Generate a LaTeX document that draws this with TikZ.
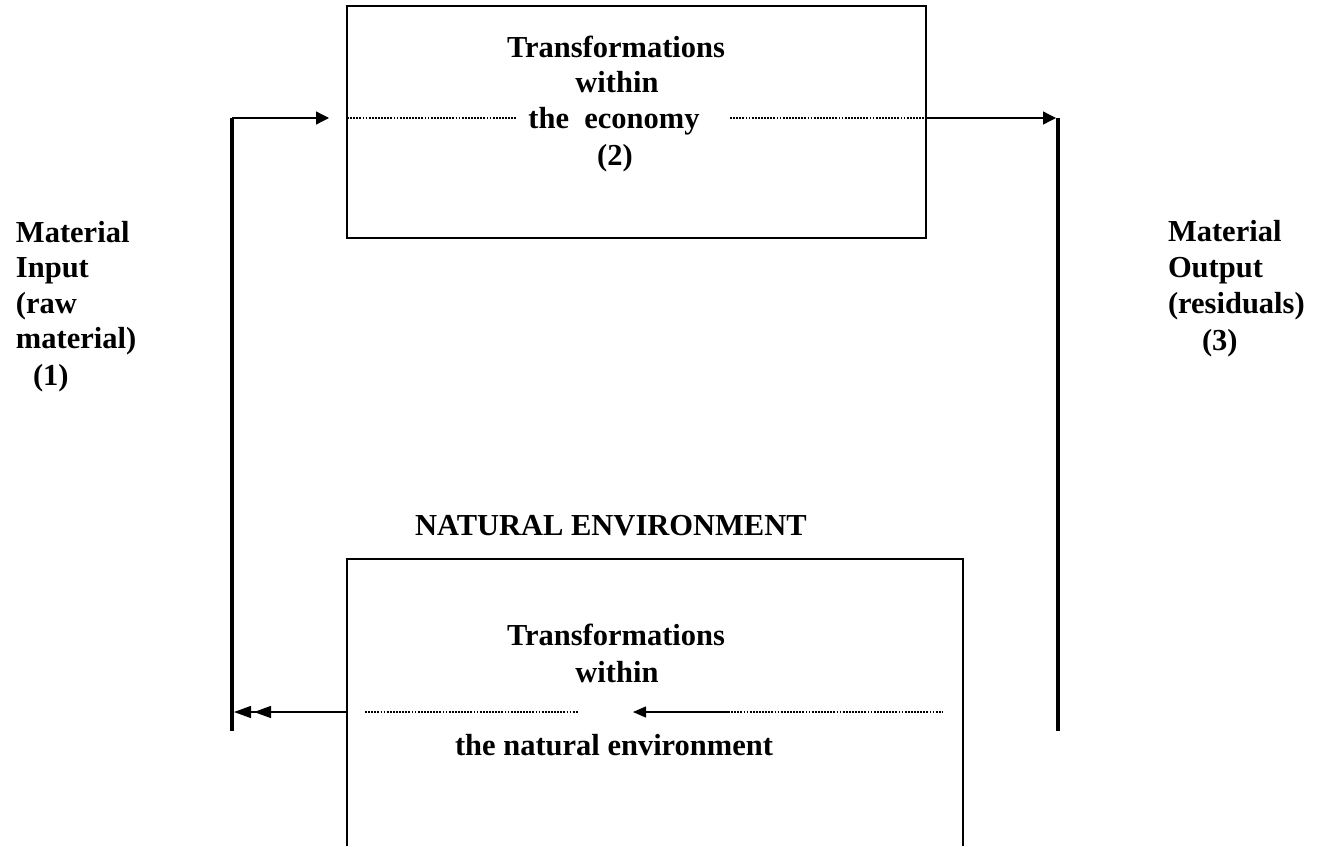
\documentclass[tikz,border=0pt]{standalone}
\usepackage{fontspec}
\setmainfont{Liberation Serif}
\usetikzlibrary{arrows.meta}
\tikzset{
  lbl/.style={font=\fontsize{30.5}{36}\selectfont\bfseries, inner sep=0pt, outer sep=0pt, anchor=base west},
  boxline/.style={line width=1.3pt},
  thinline/.style={line width=1.3pt},
  thickline/.style={line width=4pt},
  dotline/.style={line width=1.1pt, dash pattern=on 1.8pt off 1.3pt},
  headA/.style={-{Triangle[length=13pt,width=13pt]}},
  headB/.style={-{Triangle[length=13pt,width=11pt]}},
  headC/.style={-{Triangle[length=17pt,width=12pt,sep=3pt]Triangle[length=17pt,width=12pt]}}
}
\begin{document}
\begin{tikzpicture}[x=1pt,y=-1pt]
\useasboundingbox (0,0) rectangle (1317,846);

% boxes
\node[draw, boxline, rectangle, outer sep=0pt, inner sep=0pt, minimum width=579pt, minimum height=232pt, anchor=north west] (econ) at (347,6) {};
\draw[boxline] (347,846) -- (347,559) -- (963,559) -- (963,846);

% coordinates
\coordinate (LT) at (232,118);
\coordinate (LB) at (232,731);
\coordinate (RT) at (1058,118);
\coordinate (RB) at (1058,731);
\coordinate (inTip) at (329,118);
\coordinate (eL) at (347,118);
\coordinate (eLd) at (517,118);
\coordinate (eRd) at (730,118);
\coordinate (eR) at (926,118);
\coordinate (outTip) at (1056,118);
\coordinate (nL) at (347,712);
\coordinate (nTip) at (234,712);
\coordinate (nd1) at (365,712);
\coordinate (nd2) at (578,712);
\coordinate (nA) at (728,712);
\coordinate (nATip) at (633,712);
\coordinate (nd3) at (943,712);

% thick verticals
\draw[thickline] (LT) -- (LB);
\draw[thickline] (RT) -- (RB);

% top flow
\draw[thinline, headA] (LT) -- (inTip);
\draw[dotline] (eL) -- (eLd);
\draw[dotline] (eRd) -- (eR);
\draw[thinline, headA] (eR) -- (outTip);

% bottom flow
\draw[thinline, headC] (nL) -- (nTip);
\draw[dotline] (nd1) -- (nd2);
\draw[thinline, headB] (nA) -- (nATip);
\draw[dotline] (nA) -- (nd3);

% top box text
\node[lbl, anchor=base] (t1) at (616,57) {Transformations};
\node[lbl, anchor=base] (t2) at (617,92) {within};
\node[lbl, anchor=base] (t3) at (614,128) {the\ \ economy};
\node[lbl, anchor=base] (t4) at (615,165) {(2)};

% left text
\node[lbl] (l1) at (16,242) {Material};
\node[lbl] (l2) at (16,277) {Input};
\node[lbl] (l3) at (16,313) {(raw};
\node[lbl] (l4) at (16,348) {material)};
\node[lbl] (l5) at (33,385) {(1)};

% right text
\node[lbl] (r1) at (1168,241) {Material};
\node[lbl] (r2) at (1168,277) {Output};
\node[lbl] (r3) at (1168,313) {(residuals)};
\node[lbl] (r4) at (1202,350) {(3)};

% natural environment
\node[lbl] (ne) at (415,535) {NATURAL ENVIRONMENT};
\node[lbl, anchor=base] (b1) at (616,645) {Transformations};
\node[lbl, anchor=base] (b2) at (617,682) {within};
\node[lbl, anchor=base] (b3) at (614,755) {the natural environment};
\end{tikzpicture}
\end{document}
